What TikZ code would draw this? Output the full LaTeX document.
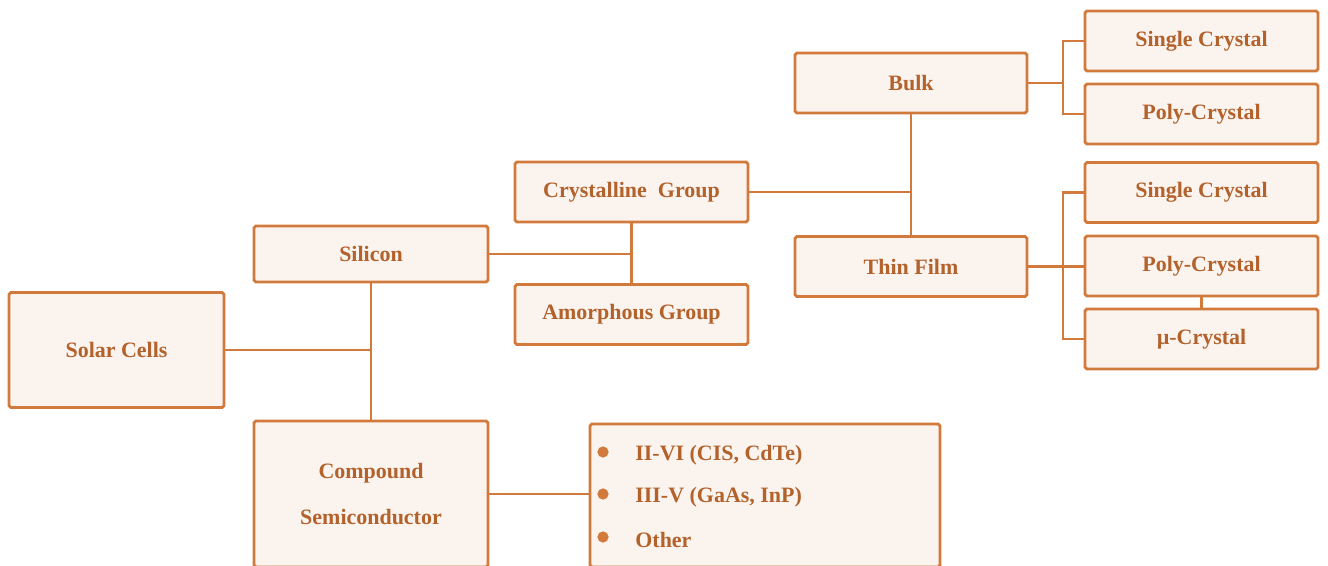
\documentclass[tikz,border=0pt]{standalone}
\usepackage{fontspec}
\setmainfont{Liberation Serif}
\definecolor{boxline}{HTML}{D27A3C}
\definecolor{boxfill}{HTML}{FAF3EE}
\definecolor{boxtext}{HTML}{B3622C}
\tikzset{
  cell/.style={draw=boxline,fill=boxfill,line width=1.6pt,rounded corners=1pt,
    text=boxtext,font=\fontsize{12.5}{15}\selectfont\bfseries,align=center,inner sep=0pt},
  leaf/.style={cell,minimum width=4.66cm,minimum height=1.2cm},
  link/.style={draw=boxline,line width=1.6pt},
  dot/.style={circle,fill=boxline,inner sep=0pt,minimum size=6.4pt},
  item/.style={anchor=west,text=boxtext,font=\fontsize{12.5}{15}\selectfont\bfseries,inner sep=0pt},
}
\begin{document}
\begin{tikzpicture}[x=0.02cm,y=-0.02cm]
 \useasboundingbox (0,0) rectangle (1328,565);
 \node[cell,minimum width=4.3cm,minimum height=2.3cm] (solar) at (116.5,350) {Solar Cells};
 \node[cell,minimum width=4.68cm,minimum height=1.12cm] (silicon) at (371,254) {Silicon};
 \node[cell,minimum width=4.68cm,minimum height=2.92cm] (compound) at (371,494)
   {Compound\\[11pt]Semiconductor};
 \node[leaf] (crystal) at (631.5,192) {Crystalline~~Group};
 \node[leaf] (amorph) at (631.5,314.5) {Amorphous Group};
 \node[leaf,minimum width=4.64cm] (bulk) at (911,83) {Bulk};
 \node[leaf,minimum width=4.64cm] (thin) at (911,266.5) {Thin Film};
 \node[leaf] (sc1) at (1201.5,41) {Single Crystal};
 \node[leaf] (pc1) at (1201.5,114) {Poly-Crystal};
 \node[leaf] (sc2) at (1201.5,192.5) {Single Crystal};
 \node[leaf] (pc2) at (1201.5,266) {Poly-Crystal};
 \node[leaf] (mc) at (1201.5,339) {µ-Crystal};
 % compound list
 \node[cell,minimum width=7cm,minimum height=2.86cm] (list) at (765,495.5) {};
 \foreach \y/\t [count=\i] in {452/II-VI (CIS{,} CdTe),494/III-V (GaAs{,} InP),537/Other} {
   \node[dot] (d\i) at (603,\y) {};
   \node[item] (t\i) at (635,\y+3) {\t};
 }
 % connectors
 \coordinate (bfork) at (1063,83);
 \coordinate (tfork) at (1063,266.5);
 \draw[link] (solar.east) -- (solar.east -| silicon.south);
 \draw[link] (silicon.south) -- (compound.north);
 \draw[link] (silicon.east) -- (silicon.east -| crystal.south);
 \draw[link] (crystal.south) -- (amorph.north);
 \draw[link] (crystal.east) -- (crystal.east -| bulk.south);
 \draw[link] (bulk.south) -- (thin.north);
 \draw[link] (bulk.east) -- (bfork);
 \draw[link] (sc1.west) -| (bfork) |- (pc1.west);
 \draw[link] (thin.east) -- (thin.east -| pc2.west);
 \draw[link] (sc2.west) -| (tfork) |- (mc.west);
 \draw[link] (pc2.south) -- (mc.north);
 \draw[link] (compound.east) -- (compound.east -| list.west);
\end{tikzpicture}
\end{document}
